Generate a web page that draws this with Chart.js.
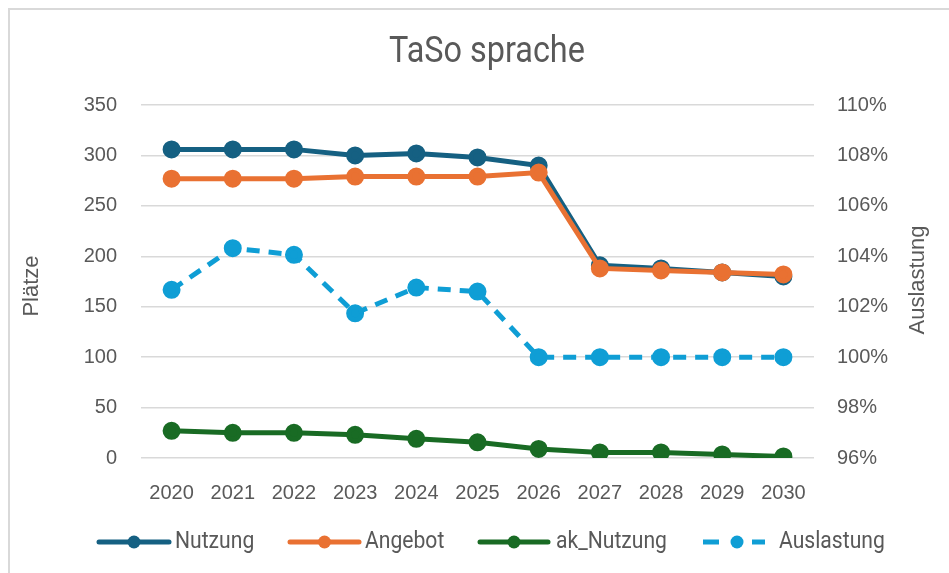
<!DOCTYPE html>
<html>
<head>
<meta charset="utf-8">
<script src="https://cdn.jsdelivr.net/npm/chart.js@4.4.1/dist/chart.umd.min.js"></script>
<style>
  html, body { margin: 0; padding: 0; background: #ffffff; }
  #wrap { position: relative; width: 949px; height: 573px; overflow: hidden; }
  #frame { position: absolute; left: 8px; top: 8px; width: 1000px; height: 1000px;
           border-left: 2px solid #d9d9d9; border-top: 2px solid #d9d9d9; box-sizing: border-box; }
  canvas { position: absolute; left: 0; top: 0; }
</style>
</head>
<body>
<div id="wrap">
  <div id="frame"></div>
  <canvas id="c" width="949" height="573"></canvas>
</div>
<script>
const years = ['2020','2021','2022','2023','2024','2025','2026','2027','2028','2029','2030'];
const nutzung = [306, 306, 306, 300, 302, 298, 290, 191, 188, 184, 180];
const angebot = [277, 277, 277, 279, 279, 279, 283, 188, 186, 184, 182];
const akNutzung = [27, 25, 25, 23, 19, 15.5, 9, 5.5, 5.5, 3.5, 1.5];
const auslastung = [1.0267, 1.0432, 1.0406, 1.0174, 1.0276, 1.0260, 1.0, 1.0, 1.0, 1.0, 1.0];
const leftTicks = [0, 50, 100, 150, 200, 250, 300, 350];
const title = 'TaSo sprache';
const leftTitle = 'Plätze';
const rightTitle = 'Auslastung';

const C_NUTZ = '#156082', C_ANG = '#E97132', C_AK = '#196B24', C_AUS = '#0F9ED5';
const TXT = '#595959';
const NARROW = "'Roboto', sans-serif";
const SANS = "'Liberation Sans', Arial, sans-serif";

function ds(label, data, color, axis, order, dash) {
  return {
    label, data, yAxisID: axis, order,
    borderColor: color, backgroundColor: color,
    pointBackgroundColor: color, pointBorderColor: color,
    borderWidth: 5, pointRadius: 6.5, pointHoverRadius: 6.5,
    borderDash: dash || [], borderCapStyle: 'butt', tension: 0, fill: false
  };
}

const overlay = {
  id: 'overlay',
  afterDraw(chart) {
    const ctx = chart.ctx;
    ctx.save();
    ctx.fillStyle = TXT;
    ctx.textAlign = 'center';
    ctx.textBaseline = 'middle';
    ctx.save();
    ctx.translate(487, 53);
    ctx.scale(0.9, 1);
    ctx.font = "36px " + NARROW;
    ctx.fillText(title, 0, 0);
    ctx.restore();
    ctx.font = "22px " + SANS;
    ctx.save(); ctx.translate(32, 286); ctx.rotate(-Math.PI/2); ctx.fillText(leftTitle, 0, 0); ctx.restore();
    ctx.save(); ctx.translate(918, 280); ctx.rotate(-Math.PI/2); ctx.fillText(rightTitle, 0, 0); ctx.restore();
    const items = [
      {x0: 99, x1: 169, tx: 175},
      {x0: 290, x1: 359, tx: 365},
      {x0: 480, x1: 548, tx: 556}
    ];
    const y = 542;
    chart.data.datasets.forEach((d, i) => {
      ctx.save();
      ctx.strokeStyle = d.borderColor;
      ctx.fillStyle = d.borderColor;
      ctx.lineWidth = 5;
      let tx, cx;
      if (i < 3) {
        const it = items[i];
        ctx.lineCap = 'round';
        ctx.beginPath(); ctx.moveTo(it.x0, y); ctx.lineTo(it.x1, y); ctx.stroke();
        cx = (it.x0 + it.x1) / 2; tx = it.tx;
      } else {
        ctx.lineCap = 'butt';
        ctx.beginPath(); ctx.moveTo(703, y); ctx.lineTo(719, y); ctx.stroke();
        ctx.beginPath(); ctx.moveTo(752, y); ctx.lineTo(765, y); ctx.stroke();
        cx = 737; tx = 779;
      }
      ctx.beginPath(); ctx.arc(cx, y, 6.5, 0, Math.PI * 2); ctx.fill();
      ctx.restore();
      ctx.save();
      ctx.fillStyle = TXT;
      ctx.textAlign = 'left';
      ctx.translate(tx, y);
      ctx.scale(0.88, 1);
      ctx.font = "24px " + NARROW;
      ctx.fillText(d.label, 0, 0);
      ctx.restore();
    });
    ctx.restore();
  }
};

new Chart(document.getElementById('c'), {
  type: 'line',
  data: {
    labels: years,
    datasets: [
      ds('Nutzung', nutzung, C_NUTZ, 'y', 3),
      ds('Angebot', angebot, C_ANG, 'y', 2),
      ds('ak_Nutzung', akNutzung, C_AK, 'y', 1),
      ds('Auslastung', auslastung, C_AUS, 'y1', 0, [13, 9])
    ]
  },
  options: {
    responsive: false,
    animation: false,
    layout: { padding: { top: 105, bottom: 0, left: 0, right: 0 } },
    plugins: { legend: { display: false }, title: { display: false }, tooltip: { enabled: false } },
    scales: {
      x: {
        offset: true,
        grid: { display: false, drawTicks: false },
        border: { display: false },
        ticks: { color: TXT, font: { size: 20, family: SANS }, padding: 23, maxRotation: 0 },
        afterFit(s) { s.height = 115; }
      },
      y: {
        position: 'left', min: 0, max: 350,
        afterBuildTicks(s) { s.ticks = leftTicks.map(v => ({ value: v })); },
        grid: { color: '#d9d9d9', lineWidth: 1.5, drawTicks: false },
        border: { display: false },
        ticks: { color: TXT, font: { size: 20, family: SANS }, padding: 24 },
        afterFit(s) { s.width = 141; }
      },
      y1: {
        position: 'right', min: 0.96, max: 1.10,
        grid: { display: false, drawTicks: false },
        border: { display: false },
        ticks: { stepSize: 0.02, color: TXT, font: { size: 20, family: SANS }, padding: 23,
                 callback: v => Math.round(v * 100) + '%' },
        afterFit(s) { s.width = 135; }
      }
    }
  },
  plugins: [overlay]
});
</script>
</body>
</html>
